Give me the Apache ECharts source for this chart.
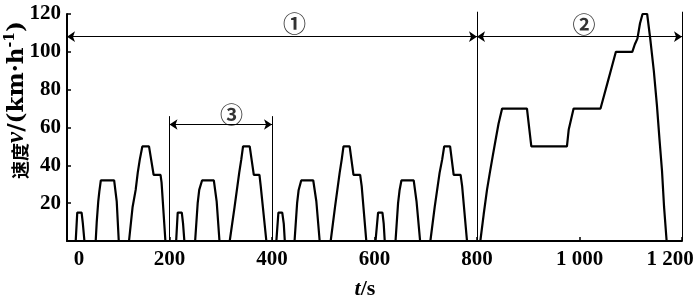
<!DOCTYPE html>
<html>
<head>
<meta charset="utf-8">
<script src="https://cdn.jsdelivr.net/npm/echarts@6/dist/echarts.min.js"></script>
<style>
html,body{margin:0;padding:0;background:#fff;}
#c{width:700px;height:303px;}
</style>
</head>
<body>
<div id="c"></div>
<script>
// ---- data ----
var timeS = [
  0, 17, 20, 28.5, 31, 34, 56, 58, 61, 63, 66, 92, 97, 101, 121, 128, 134, 138, 142, 147, 160, 169, 182.5, 184.5, 192,
  213, 216, 224, 226.5, 229, 250, 255, 258, 263.5, 286.5, 292, 297.5, 317.5, 327, 336, 340, 343.5, 356.5, 364.5, 375.5, 378, 389,
  408.5, 412.5, 420, 423, 425, 444, 449, 452, 457, 480.5, 486.5, 493, 514.5, 523, 532, 536, 539.5, 551.5, 559, 572, 575, 584,
  602, 607, 615.5, 618, 620, 641, 646, 649, 652.5, 676.5, 682, 689, 709, 717.5, 727, 732, 736, 747.5, 754.5, 768, 771, 780.5,
  806.5, 813, 819.5, 825, 830.5, 836, 842, 849, 897.5, 900, 906, 975.5, 979, 988.5, 1041, 1047, 1055, 1063, 1071, 1103, 1108, 1113, 1118, 1123, 1132, 1138, 1145, 1151, 1156, 1161, 1165, 1170
];
var speedKmh = [
  0, 0, 15, 15, 9, 0, 0, 10, 21, 26, 32, 32, 21, 0, 0, 18, 27, 36, 43, 50, 50, 35, 35, 31, 0,
  0, 15, 15, 9, 0, 0, 20, 27, 32, 32, 21, 0, 0, 18, 36, 43, 50, 50, 35, 35, 29, 0,
  0, 15, 15, 9, 0, 0, 20, 27, 32, 32, 21, 0, 0, 18, 36, 43, 50, 50, 35, 35, 29, 0,
  0, 15, 15, 9, 0, 0, 20, 27, 32, 32, 21, 0, 0, 18, 36, 43, 50, 50, 35, 35, 29, 0,
  0, 14, 27, 36, 44.6, 53, 62, 70, 70, 64, 50, 50, 59, 70, 70, 76, 84, 92, 100, 100, 104, 107, 115, 120, 120, 107, 90, 72, 54, 37, 18, 0
];
var xTickValues = [0, 200, 400, 600, 800, 1000, 1200];
var xTickLabels = ['0', '200', '400', '600', '800', '1 000', '1 200'];
var yTickValues = [20, 40, 60, 80, 100, 120];
var yTickLabels = ['20', '40', '60', '80', '100', '120'];

// phase boundaries and annotation arrows (data coordinates)
var boundaryT = [200, 400, 800, 1200];
var boundaryTop = [66, 66, 121.2, 121.2];
var arrowStart = [0, 800, 200];
var arrowEnd = [800, 1200, 400];
var arrowLevel = [108, 108, 61.6];
var phaseNames = ['①', '②', '③'];
var phaseLabelT = [444, 1009, 321];
var phaseLabelV = [115.2, 114.7, 67.1];

// ---- build ----
var speedData = timeS.map(function (t, i) { return [t, speedKmh[i]]; });
var boundaryData = boundaryT.map(function (t, i) { return { coords: [[t, 0], [t, boundaryTop[i]]] }; });
var arrowData = arrowStart.map(function (s, i) { return { coords: [[s, arrowLevel[i]], [arrowEnd[i], arrowLevel[i]]] }; });
var phaseData = phaseNames.map(function (n, i) { return { name: n, value: [phaseLabelT[i], phaseLabelV[i]] }; });

var serif = '"Liberation Serif", "Times New Roman", serif';
var chart = echarts.init(document.getElementById('c'), null, { renderer: 'canvas' });
chart.setOption({
  animation: false,
  backgroundColor: '#fff',
  grid: { left: 67, right: 18, top: 14, bottom: 62, containLabel: false, outerBoundsMode: 'none' },
  xAxis: {
    type: 'value', min: 0, max: 1200, interval: 200,
    axisLine: { lineStyle: { color: '#000', width: 2 } },
    axisTick: { inside: true, length: 4, lineStyle: { color: '#000', width: 1.5 } },
    splitLine: { show: false },
    axisLabel: {
      color: '#000', fontFamily: serif, fontWeight: 'bold', fontSize: 21, margin: 8,
      formatter: function (v) {
        var i = xTickValues.indexOf(v);
        var s = i >= 0 ? xTickLabels[i] : '';
        if (v === 0) return '{l|' + s + '}';
        if (v === 1200) return '{r|' + s + '}';
        return s;
      },
      rich: {
        l: { fontFamily: serif, fontWeight: 'bold', fontSize: 21, color: '#000', padding: [0, 0, 0, 24] },
        r: { fontFamily: serif, fontWeight: 'bold', fontSize: 21, color: '#000', padding: [0, 24, 0, 0] }
      }
    }
  },
  yAxis: {
    type: 'value', min: 0, max: 120, interval: 20,
    axisLine: { lineStyle: { color: '#000', width: 2 } },
    axisTick: { inside: true, length: 4, lineStyle: { color: '#000', width: 1.5 } },
    splitLine: { show: false },
    axisLabel: {
      color: '#000', fontFamily: serif, fontWeight: 'bold', fontSize: 21, margin: 6,
      formatter: function (v) {
        var i = yTickValues.indexOf(v);
        return i >= 0 ? yTickLabels[i] : '';
      }
    }
  },
  series: [
    {
      type: 'line', data: speedData, symbol: 'none', clip: false,
      lineStyle: { color: '#000', width: 2.2 }, z: 5
    },
    {
      type: 'lines', coordinateSystem: 'cartesian2d', clip: false,
      data: boundaryData, symbol: 'none',
      lineStyle: { color: '#000', width: 1, opacity: 1 }
    },
    {
      type: 'lines', coordinateSystem: 'cartesian2d', clip: false,
      data: arrowData, symbol: ['arrow', 'arrow'], symbolSize: 8,
      lineStyle: { color: '#000', width: 1, opacity: 1 }
    },
    {
      type: 'scatter', data: phaseData, symbolSize: 0, clip: false,
      label: {
        show: true, position: 'inside', formatter: '{b}', color: '#000',
        fontFamily: '"Noto Sans CJK SC", "DejaVu Sans", sans-serif', fontWeight: 'bold', fontSize: 23
      }
    }
  ],
  graphic: [
    {
      type: 'text', x: 16, y: 100, rotation: Math.PI / 2,
      style: {
        text: '{c|速度}{i|v}{n|/(km·h}{s|-1}{n|)}',
        align: 'center', verticalAlign: 'middle', textAlign: 'center', textVerticalAlign: 'middle',
        rich: {
          c: { fontFamily: '"Noto Sans CJK SC", sans-serif', fontWeight: 'bold', fontSize: 18, fill: '#000', lineHeight: 26, verticalAlign: 'bottom' },
          i: { fontFamily: serif, fontStyle: 'italic', fontWeight: 'bold', fontSize: 25, fill: '#000', lineHeight: 26, verticalAlign: 'bottom' },
          n: { fontFamily: '"DejaVu Serif", serif', fontWeight: 'bold', fontSize: 23, fill: '#000', lineHeight: 26, verticalAlign: 'bottom' },
          s: { fontFamily: '"DejaVu Serif", serif', fontWeight: 'bold', fontSize: 14, fill: '#000', lineHeight: 26, verticalAlign: 'top' }
        }
      }
    },
    {
      type: 'text', x: 365, y: 289,
      style: {
        text: '{i|t}{n|/s}',
        align: 'center', verticalAlign: 'middle', textAlign: 'center', textVerticalAlign: 'middle',
        rich: {
          i: { fontFamily: serif, fontStyle: 'italic', fontWeight: 'bold', fontSize: 22, fill: '#000' },
          n: { fontFamily: serif, fontWeight: 'bold', fontSize: 22, fill: '#000' }
        }
      }
    }
  ]
});
</script>
</body>
</html>
